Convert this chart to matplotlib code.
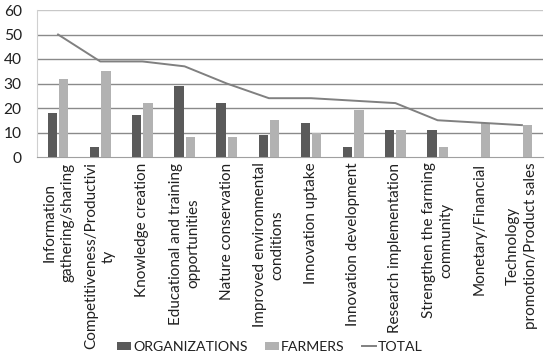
import matplotlib
matplotlib.use("Agg")
import matplotlib.pyplot as plt
import numpy as np

categories = [
    "Information\ngathering/sharing",
    "Competitiveness/Productivi\nty",
    "Knowledge creation",
    "Educational and training\nopportunities",
    "Nature conservation",
    "Improved environmental\nconditions",
    "Innovation uptake",
    "Innovation development",
    "Research implementation",
    "Strengthen the farming\ncommunity",
    "Monetary/Financial",
    "Technology\npromotion/Product sales",
]
organizations = [18, 4, 17, 29, 22, 9, 14, 4, 11, 11, 0, 0]
farmers = [32, 35, 22, 8, 8, 15, 10, 19, 11, 4, 14, 13]
total = [50, 39, 39, 37, 30, 24, 24, 23, 22, 15, 14, 13]
yticks = [0, 10, 20, 30, 40, 50, 60]

plt.rcParams['font.family'] = ['Lato', 'DejaVu Sans']

fig = plt.figure(figsize=(5.5, 3.55), dpi=100)
ax = fig.add_axes([37/550, 1-157/355, (543-37)/550, (157-10)/355])

x = np.arange(len(categories))
w = 0.22
off = 0.135
b1 = ax.bar(x - off, organizations, w, color='#5a5a5a', label='ORGANIZATIONS', zorder=3)
b2 = ax.bar(x + off, farmers, w, color='#b2b2b2', label='FARMERS', zorder=3)
l1, = ax.plot(x, total, color='#808080', lw=1.4, label='TOTAL', zorder=4)

ax.set_xlim(-0.5, len(categories) - 0.5)
ax.set_ylim(0, 60)
ax.set_yticks(yticks)
ax.set_yticklabels([str(v) for v in yticks], fontsize=11.2, color='#202020')
for v in yticks[1:-1]:
    ax.axhline(v, color='#8a8a8a', lw=1, zorder=1)
ax.axhline(60, color='#c8c8c8', lw=1, zorder=1)

for s in ['top', 'right']:
    ax.spines[s].set_visible(False)
ax.spines['left'].set_color('#d0d0d0')
ax.spines['bottom'].set_color('#a0a0a0')
ax.tick_params(axis='both', length=0)
ax.tick_params(axis='y', pad=11)
ax.set_xticks(x)
ax.set_xticklabels(categories, rotation=90, ha='center', va='top',
                   fontsize=11, linespacing=1.35, color='#202020')
ax.tick_params(axis='x', pad=4)

fig.legend(handles=[b1, b2, l1], labels=['ORGANIZATIONS', 'FARMERS', 'TOTAL'],
           loc='center', bbox_to_anchor=(270/550, 1-347/355), ncol=3,
           frameon=False, fontsize=10.2, handlelength=1.0, handleheight=0.5,
           handletextpad=0.15, columnspacing=1.2, borderpad=0, labelcolor='#202020')

fig.savefig('out.png', dpi=100)
